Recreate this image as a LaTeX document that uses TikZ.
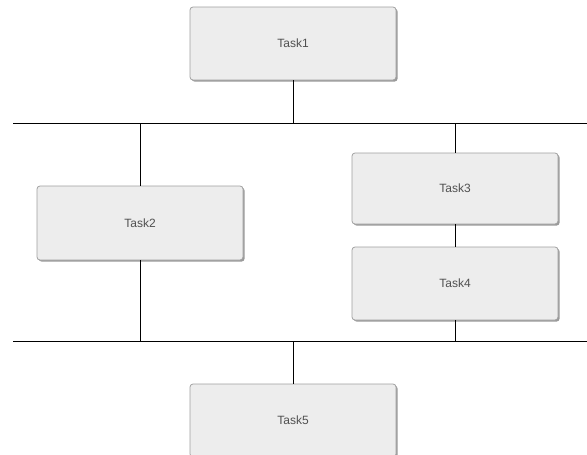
\documentclass[tikz,border=0pt]{standalone}
\usepackage{fontspec}
\setmainfont{Liberation Sans}
\usetikzlibrary{shadows}
\definecolor{boxfill}{HTML}{EDEDED}
\definecolor{boxline}{HTML}{A0A0A0}
\definecolor{boxshadow}{HTML}{9A9A9A}
\definecolor{txt}{HTML}{505050}
\tikzset{
  taskbox/.style={draw=boxline, line width=0.8pt, fill=boxfill, rounded corners=3pt,
    minimum width=206pt, minimum height=72pt, inner sep=0pt,
    font=\fontsize{12}{14}\selectfont, text=txt,
    drop shadow={shadow xshift=1.6pt, shadow yshift=-1.6pt, fill=boxshadow, opacity=1}},
  conn/.style={draw=black, line width=1pt}
}
\begin{document}
\begin{tikzpicture}[x=1pt,y=-1pt]
\useasboundingbox (0,0) rectangle (587,455);
\clip (0,0) rectangle (587,455);
\node[taskbox, minimum height=73pt] (t1) at (293,43.5) {Task1};
\node[taskbox, minimum height=74pt] (t2) at (140,223) {Task2};
\node[taskbox, minimum height=71pt] (t3) at (455,188.5) {Task3};
\node[taskbox, minimum height=73pt] (t4) at (455,283.5) {Task4};
\node[taskbox, minimum height=73pt] (t5) at (293,420.5) {Task5};
\coordinate (b1l) at (13,123);
\coordinate (b1r) at (587,123);
\coordinate (b2l) at (13,341);
\coordinate (b2r) at (587,341);
\draw[conn] (b1l) -- (b1r);
\draw[conn] (b2l) -- (b2r);
\draw[conn] (t1.south) -- (t1.south |- b1l);
\draw[conn] (t2.north |- b1l) -- (t2.north);
\draw[conn] (t3.north |- b1l) -- (t3.north);
\draw[conn] (t3.south) -- (t4.north);
\draw[conn] (t2.south) -- (t2.south |- b2l);
\draw[conn] (t4.south) -- (t4.south |- b2l);
\draw[conn] (t5.north |- b2l) -- (t5.north);
\end{tikzpicture}
\end{document}
